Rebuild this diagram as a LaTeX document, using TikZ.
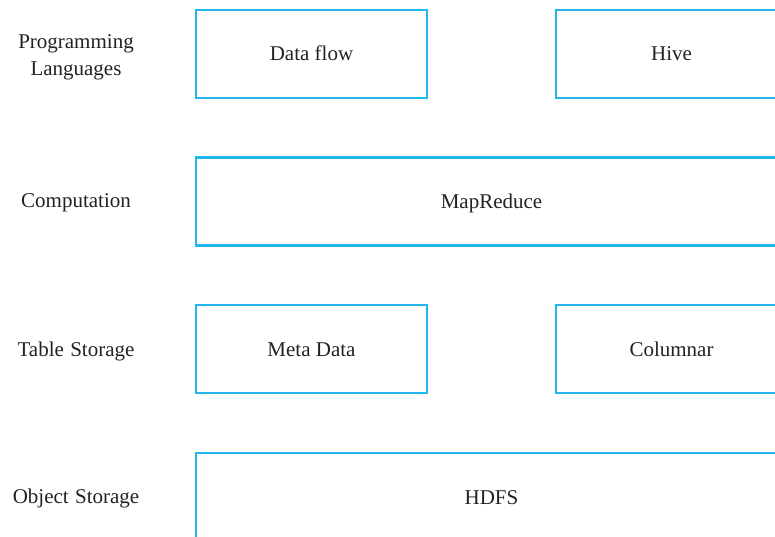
\documentclass[tikz,border=0pt]{standalone}
\usepackage{fontspec}
\setmainfont{Liberation Serif}
\definecolor{boxblue}{HTML}{22B8EE}
\definecolor{txt}{HTML}{222222}
\begin{document}
\begin{tikzpicture}[x=1pt,y=-1pt,
  layerbox/.style={draw=boxblue,line width=2.4pt,rectangle,minimum width=231pt,minimum height=88pt,inner sep=0pt,text=txt,font=\fontsize{21}{25}\selectfont,text height=14pt,text depth=0pt},
  widebox/.style={layerbox,minimum width=591pt},
  lbl/.style={text=txt,font=\fontsize{21}{27}\selectfont,align=center,inner sep=0pt}]
\useasboundingbox (0,0) rectangle (775,537);
\clip (0,0) rectangle (775,537);
\node[layerbox] (dataflow) at (311.5,54) {Data flow};
\node[layerbox] (hive) at (671.5,54) {Hive};
\node[widebox] (mapreduce) at (491.5,201.5) {MapReduce};
\node[layerbox] (meta) at (311.5,349) {Meta Data};
\node[layerbox] (columnar) at (671.5,349) {Columnar};
\node[widebox] (hdfs) at (491.5,497) {HDFS};
\node[lbl] (lprog) at (76,57) {Programming\\Languages};
\node[lbl] (lcomp) at (76,203) {Computation};
\node[lbl] (ltable) at (76,351) {Table\hspace{0.3em}Storage};
\node[lbl] (lobj) at (76,498) {Object\hspace{0.3em}Storage};
\end{tikzpicture}
\end{document}
